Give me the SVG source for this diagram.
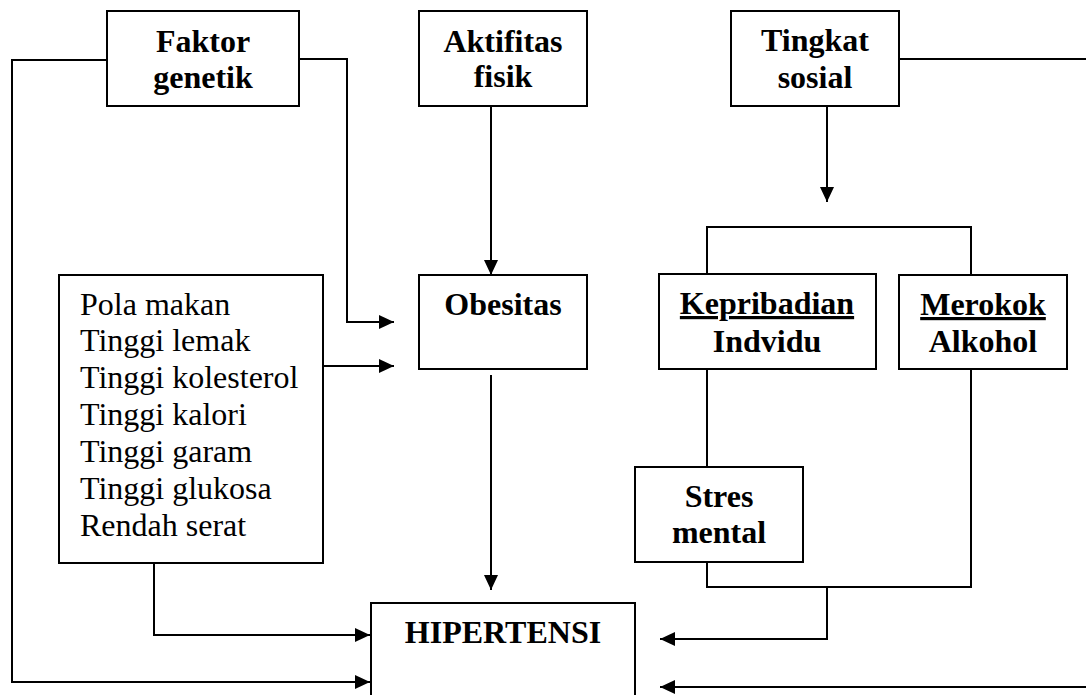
<svg xmlns="http://www.w3.org/2000/svg" width="1086" height="695" viewBox="0 0 1086 695">
<style>
.box{fill:#fff;stroke:#000;stroke-width:2}
.c{fill:none;stroke:#000;stroke-width:2}
.t{font-family:"Liberation Serif","Times New Roman",serif;font-size:32px;fill:#000}
.b{font-weight:bold;text-anchor:middle}
.u{text-decoration:underline}
</style>
<defs>
<marker id="ah" markerUnits="userSpaceOnUse" markerWidth="16" markerHeight="16" refX="15" refY="7" orient="auto">
<path d="M0,0 L15,7 L0,14 z" fill="#000"/>
</marker>
</defs>
<g id="connectors">
<path class="c" d="M107,60 H12 V682 H370" marker-end="url(#ah)"/>
<path class="c" d="M154,563 V635 H370" marker-end="url(#ah)"/>
<path class="c" d="M299,59 H347 V322 H394" marker-end="url(#ah)"/>
<path class="c" d="M323,366 H394" marker-end="url(#ah)"/>
<path class="c" d="M491,106 V275" marker-end="url(#ah)"/>
<path class="c" d="M491,375 V590" marker-end="url(#ah)"/>
<path class="c" d="M899,59 H1086"/>
<path class="c" d="M827,106 V202" marker-end="url(#ah)"/>
<path class="c" d="M707,274 V227 H971 V275"/>
<path class="c" d="M707,369 V467"/>
<path class="c" d="M707,562 V587 H971 V369"/>
<path class="c" d="M827,587 V639 H660" marker-end="url(#ah)"/>
<path class="c" d="M1086,687 H660" marker-end="url(#ah)"/>
</g>
<g id="faktor-genetik">
<rect class="box" x="107" y="11" width="192" height="95"/>
<text class="t b" x="203" y="52">Faktor</text>
<text class="t b" x="203" y="88">genetik</text>
</g>
<g id="aktifitas-fisik">
<rect class="box" x="419" y="11" width="168" height="95"/>
<text class="t b" x="503" y="52">Aktifitas</text>
<text class="t b" x="503" y="87">fisik</text>
</g>
<g id="tingkat-sosial">
<rect class="box" x="731" y="11" width="168" height="95"/>
<text class="t b" x="815" y="51">Tingkat</text>
<text class="t b" x="815" y="88">sosial</text>
</g>
<g id="pola-makan">
<rect class="box" x="59" y="275" width="264" height="288"/>
<text class="t" x="80" y="315">Pola makan</text>
<text class="t" x="80" y="351">Tinggi lemak</text>
<text class="t" x="80" y="388">Tinggi kolesterol</text>
<text class="t" x="80" y="425">Tinggi kalori</text>
<text class="t" x="80" y="462">Tinggi garam</text>
<text class="t" x="80" y="499">Tinggi glukosa</text>
<text class="t" x="80" y="536">Rendah serat</text>
</g>
<g id="obesitas">
<rect class="box" x="419" y="275" width="168" height="94"/>
<text class="t b" x="503" y="315">Obesitas</text>
</g>
<g id="kepribadian">
<rect class="box" x="659" y="274" width="217" height="95"/>
<text class="t b u" x="767" y="314">Kepribadian</text>
<text class="t b" x="767" y="352">Indvidu</text>
</g>
<g id="merokok">
<rect class="box" x="899" y="275" width="168" height="94"/>
<text class="t b u" x="983" y="315">Merokok</text>
<text class="t b" x="983" y="352">Alkohol</text>
</g>
<g id="stres">
<rect class="box" x="635" y="467" width="168" height="95"/>
<text class="t b" x="719" y="507">Stres</text>
<text class="t b" x="719" y="543">mental</text>
</g>
<g id="hipertensi">
<rect class="box" x="371" y="603" width="264" height="100"/>
<text class="t b" x="503" y="643">HIPERTENSI</text>
</g>
</svg>
